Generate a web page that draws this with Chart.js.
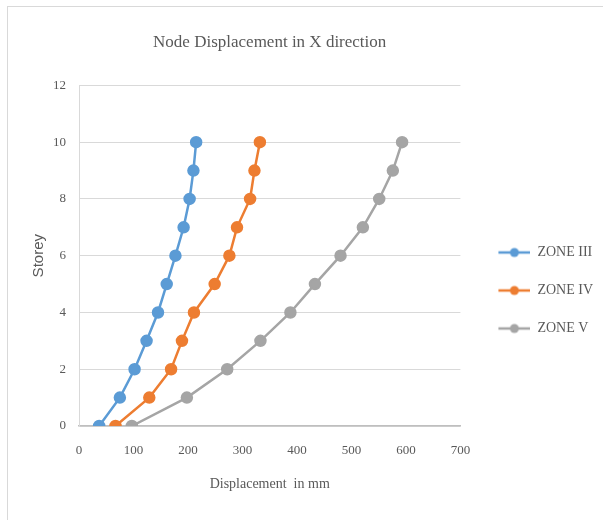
<!DOCTYPE html>
<html lang="en">
<head>
  <meta charset="UTF-8">
  <title>Node Displacement in X direction</title>
  <script src="https://cdn.jsdelivr.net/npm/chart.js@4"></script>
  <style>
    html, body { margin: 0; padding: 0; background: #fff; }
    #frame { position: absolute; left: 7px; top: 6px; width: 620px; height: 540px; border: 1px solid #d9d9d9; }
    #chart-container { position: absolute; left: 0; top: 0; width: 603px; height: 520px; }
  </style>
</head>
<body>
  <div id="frame"></div>
  <div id="chart-container">
    <canvas id="chart-canvas"></canvas>
  </div>
  <script>
    const storeys = [0, 1, 2, 3, 4, 5, 6, 7, 8, 9, 10];
    const zone3 = [37, 75, 102, 124, 145, 161, 177, 192, 203, 210, 215];
    const zone4 = [67, 129, 169, 189, 211, 249, 276, 290, 314, 322, 332];
    const zone5 = [97, 198, 272, 333, 388, 433, 480, 521, 551, 576, 593];
    const seriesNames = ['ZONE III', 'ZONE IV', 'ZONE V'];
    const seriesColors = ['#5b9bd5', '#ed7d31', '#a5a5a5'];

    const textColor = '#595959';
    const serif = "'Liberation Serif', 'Times New Roman', serif";

    // legend marker: short line with a dot, like the spreadsheet legend
    function legendMarker(color) {
      const c = document.createElement('canvas');
      c.width = 46; c.height = 12;
      const g = c.getContext('2d');
      g.strokeStyle = color;
      g.lineWidth = 2.5;
      g.beginPath();
      g.moveTo(14, 6); g.lineTo(46, 6);
      g.stroke();
      g.fillStyle = color;
      g.beginPath();
      g.arc(30, 6, 4.5, 0, Math.PI * 2);
      g.fill();
      return c;
    }

    const datasets = [zone3, zone4, zone5].map((vals, i) => ({
      label: seriesNames[i],
      data: vals.map((v, j) => ({ x: v, y: storeys[j] })),
      showLine: true,
      borderColor: seriesColors[i],
      backgroundColor: seriesColors[i],
      borderWidth: 2.5,
      pointRadius: 5,
      pointHoverRadius: 5,
      tension: 0
    }));

    const ctx = document.getElementById('chart-canvas').getContext('2d');
    new Chart(ctx, {
      type: 'scatter',
      data: { datasets: datasets },
      options: {
        responsive: true,
        maintainAspectRatio: false,
        animation: false,
        layout: { padding: { left: 10, right: 0, top: 0, bottom: 0 } },
        plugins: {
          title: {
            display: true,
            text: 'Node Displacement in X direction',
            color: textColor,
            font: { family: serif, size: 17, weight: 'normal' },
            padding: { top: 32, bottom: 33 },
            fullSize: false
          },
          legend: {
            position: 'right',
            title: { display: true, text: ' ', font: { size: 10 }, padding: { top: 49, bottom: 0 } },
            labels: {
              color: textColor,
              font: { family: serif, size: 14 },
              usePointStyle: true,
              pointStyleWidth: 46,
              padding: 24,
              generateLabels: chart => chart.data.datasets.map((ds, i) => ({
                text: ds.label,
                pointStyle: legendMarker(seriesColors[i]),
                fillStyle: seriesColors[i],
                strokeStyle: seriesColors[i],
                fontColor: textColor,
                lineWidth: 0,
                datasetIndex: i
              }))
            }
          },
          tooltip: { enabled: false }
        },
        scales: {
          x: {
            type: 'linear',
            min: 0,
            max: 700,
            ticks: { stepSize: 100, color: textColor, font: { family: serif, size: 13 }, padding: 17 },
            grid: { display: false, drawTicks: false },
            border: { display: true, color: '#bfbfbf', width: 1.5 },
            title: {
              display: true,
              text: 'Displacement  in mm',
              color: textColor,
              font: { family: serif, size: 14 },
              padding: { top: 0, bottom: 27.6 }
            }
          },
          y: {
            min: 0,
            max: 12,
            ticks: { stepSize: 2, color: textColor, font: { family: serif, size: 13 }, padding: 13 },
            grid: { color: '#d9d9d9', drawTicks: false },
            border: { display: true, color: '#d9d9d9' },
            title: {
              display: true,
              text: 'Storey',
              color: textColor,
              font: { family: "'Liberation Sans', Arial, sans-serif", size: 15 },
              padding: { top: 20, bottom: -8 }
            }
          }
        }
      }
    });
  </script>
</body>
</html>
